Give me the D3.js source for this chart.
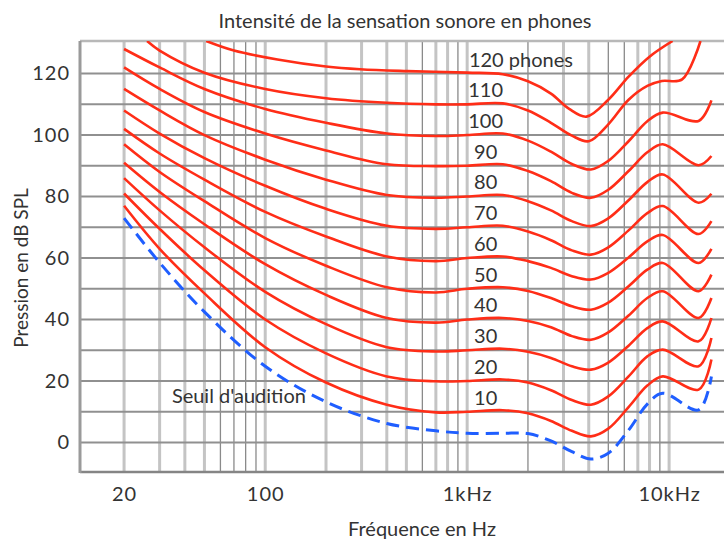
<!DOCTYPE html>
<html lang="fr">
<head>
  <meta charset="UTF-8">
  <title>Courbes isosoniques</title>
  <script src="https://d3js.org/d3.v7.min.js"></script>
  <style>
    body { margin: 0; background: #fff; }
    text { font-family: Lato, "Open Sans", sans-serif; fill: #333; }
    .title { font-size: 20px; text-anchor: middle; }
    .axis-title { font-size: 20px; text-anchor: middle; }
    .y-title { font-size: 19px; text-anchor: middle; }
    .tick text { font-size: 20px; fill: #333; letter-spacing: 1px; }
    .curve-label { font-size: 20px; }
    .contour { fill: none; stroke: #ff2d17; stroke-width: 2.6; }
    .threshold { fill: none; stroke: #1f5eff; stroke-width: 3; stroke-dasharray: 13 7; }
  </style>
</head>
<body>
  <div id="chart"></div>
  <script>
    // frequencies (Hz) shared by the contours 10..100 phones and the threshold
    const FREQ = [20, 30, 50, 100, 200, 400, 700, 1000, 1500, 2000, 2600, 3300, 4100, 5000, 6300, 7800, 9300, 14000, 16200];

    const SEUIL = [73, 58.5, 42.5, 24.8, 13.2, 6.2, 3.8, 3, 3, 2.9, 0.5, -3, -5.4, -3.5, 4, 12.5, 16, 10.6, 21.5];
    const SPL10 = [77, 63, 48.5, 31, 19.5, 12.3, 9.8, 10, 10.5, 9.5, 7, 3.8, 2, 4.5, 11.5, 18.5, 21.5, 17.2, 27];
    const SPL20 = [81, 69.5, 56, 40, 29, 21.5, 19.9, 20, 20.5, 19.5, 17, 13.8, 12.3, 15, 21.5, 28, 30.2, 24.8, 34];
    const SPL30 = [86, 75.5, 63.5, 49, 38.5, 31, 29.6, 30, 30.5, 29.5, 27.5, 24.8, 23.7, 26, 31.5, 37.2, 39.4, 32.9, 40.5];
    const SPL40 = [91, 81.5, 71, 58, 48, 40.5, 39, 40, 40.5, 39.5, 37.5, 34.6, 33.4, 35.8, 41.3, 47, 49.2, 40.5, 47];
    const SPL50 = [97, 88, 78.5, 66.5, 57.5, 50.5, 48.8, 50, 50.5, 49.3, 47, 44.3, 43.2, 45.5, 50.8, 56.2, 58.4, 49.2, 54.6];
    const SPL60 = [102, 94, 85.5, 75, 67, 60.5, 59, 60, 60.5, 59, 56.8, 54.1, 53, 55.2, 60.2, 65.4, 67.5, 58.4, 63];
    const SPL70 = [108, 100.5, 92.5, 83.5, 76, 70.5, 69.5, 70, 70.5, 68.6, 65.8, 62.5, 61.1, 63.5, 69, 74.6, 76.9, 67.8, 72];
    const SPL80 = [115, 108, 100, 92, 85.5, 80.5, 79.6, 80, 80.5, 78.5, 75.5, 72, 70.4, 72.9, 78.8, 84.7, 87.2, 78, 80.9];
    const SPL90 = [122, 115, 107.5, 100.5, 95, 90.5, 89.9, 90, 90.5, 88.3, 85, 81.2, 79.6, 82.2, 88.3, 94.4, 97, 90.2, 93.2];
    const SPL100 = [128, 122, 115, 108.5, 104, 100.5, 99.7, 100, 100.5, 98.2, 94.6, 90.6, 88.8, 91.6, 98, 104.5, 107.3, 104.6, 111.3];

    // the two loudest contours leave the frame, so they get their own frequencies
    const FREQ110 = [26, 30, 50, 100, 200, 400, 700, 1000, 1500, 2000, 2600, 3300, 4000, 5000, 6300, 7800, 9200, 11600, 14300];
    const SPL110 = [130.6, 127.5, 120.3, 115, 112, 110.5, 110, 110, 110.3, 108, 104, 99.8, 98, 103.5, 111.5, 116, 117.6, 118.1, 130.6];
    const FREQ120 = [51, 70, 115, 200, 295, 505, 1000, 1500, 2000, 2600, 3200, 3900, 5000, 6300, 8000, 10400];
    const SPL120 = [130.6, 127.5, 124.6, 122.3, 121.4, 120.8, 120.3, 119.8, 117.5, 113.5, 108.5, 106, 111.5, 119, 125.5, 130.6];

    const LABELS = ["10", "20", "30", "40", "50", "60", "70", "80", "90", "100", "110", "120 phones"];
    const LABEL_PHONS = [10, 20, 30, 40, 50, 60, 70, 80, 90, 100, 110, 120];

    const Y_TICKS = [0, 20, 40, 60, 80, 100, 120];
    const H_GRID = [0, 10, 20, 30, 40, 50, 60, 70, 80, 90, 100, 110, 120];
    const X_TICKS = [20, 100, 1000, 10000];
    const X_TICK_LABELS = ["20", "100", "1kHz", "10kHz"];
    const GRID_LIGHT = [20, 30, 40, 50, 100, 200, 300, 400, 500, 700, 800, 1000, 3000, 4000, 7000, 8000, 10000];
    const GRID_DARK = [60, 70, 80, 90, 600, 900, 2000, 5000, 6000, 9000];

    const W = 724, H = 541;
    const plotLeft = 80, plotRight = 724, plotTop = 41, plotBottom = 472;

    const svg = d3.select("#chart").append("svg")
      .attr("width", W).attr("height", H);

    const x = d3.scaleLog().domain([12.1, 18700]).range([plotLeft, plotRight]);
    const y = d3.scaleLinear().domain([-9.6, 130.6]).range([plotBottom, plotTop]);

    svg.append("defs").append("clipPath").attr("id", "plot")
      .append("rect").attr("x", plotLeft).attr("y", plotTop)
      .attr("width", plotRight - plotLeft).attr("height", plotBottom - plotTop);

    // grid
    const grid = svg.append("g");
    grid.selectAll(".vl").data(GRID_LIGHT).enter().append("line")
      .attr("x1", d => x(d)).attr("x2", d => x(d))
      .attr("y1", plotTop).attr("y2", plotBottom)
      .attr("stroke", "#c4c4c4").attr("stroke-width", 3);
    grid.selectAll(".vd").data(GRID_DARK).enter().append("line")
      .attr("x1", d => x(d)).attr("x2", d => x(d))
      .attr("y1", plotTop).attr("y2", plotBottom)
      .attr("stroke", "#8a8a8a").attr("stroke-width", 1.3);
    grid.selectAll(".hl").data(H_GRID).enter().append("line")
      .attr("x1", plotLeft).attr("x2", plotRight)
      .attr("y1", d => y(d)).attr("y2", d => y(d))
      .attr("stroke", "#909090").attr("stroke-width", 2);

    // frame
    grid.append("line").attr("x1", plotLeft).attr("x2", plotRight).attr("y1", plotTop).attr("y2", plotTop)
      .attr("stroke", "#b8b8b8").attr("stroke-width", 2.5);
    grid.append("line").attr("x1", plotLeft).attr("x2", plotRight).attr("y1", plotBottom).attr("y2", plotBottom)
      .attr("stroke", "#858585").attr("stroke-width", 2.5);
    grid.append("line").attr("x1", plotLeft).attr("x2", plotLeft).attr("y1", plotTop).attr("y2", plotBottom + 1)
      .attr("stroke", "#9a9a9a").attr("stroke-width", 3);

    // axes (labels only)
    svg.append("g")
      .attr("transform", `translate(0,${plotBottom})`)
      .call(d3.axisBottom(x).tickValues(X_TICKS).tickSize(0).tickPadding(15)
        .tickFormat((d, i) => X_TICK_LABELS[i]))
      .call(g => g.select(".domain").remove());
    svg.append("g")
      .attr("transform", `translate(${plotLeft},0)`)
      .call(d3.axisLeft(y).tickValues(Y_TICKS).tickSize(0).tickPadding(10))
      .call(g => g.select(".domain").remove());

    const line = d3.line()
      .x(d => x(d[0])).y(d => y(d[1]))
      .curve(d3.curveCatmullRom.alpha(0.5));

    const contours = [SPL10, SPL20, SPL30, SPL40, SPL50, SPL60, SPL70, SPL80, SPL90, SPL100]
      .map(vals => FREQ.map((f, i) => [f, vals[i]]));
    contours.push(FREQ110.map((f, i) => [f, SPL110[i]]));
    contours.push(FREQ120.map((f, i) => [f, SPL120[i]]));

    const plot = svg.append("g").attr("clip-path", "url(#plot)");
    plot.selectAll(".contour").data(contours).enter().append("path")
      .attr("class", "contour")
      .attr("d", line);

    plot.append("path")
      .attr("class", "threshold")
      .attr("d", line(FREQ.map((f, i) => [f, SEUIL[i]])));

    // contour labels
    svg.selectAll(".curve-label").data(LABEL_PHONS).enter().append("text")
      .attr("class", "curve-label")
      .attr("x", (d, i) => LABELS[i].length > 3 ? x(1020) : x(1235))
      .attr("y", d => y(d + 2.3))
      .attr("text-anchor", (d, i) => LABELS[i].length > 3 ? "start" : "middle")
      .text((d, i) => LABELS[i]);

    svg.append("text").attr("class", "curve-label")
      .attr("x", x(34.5)).attr("y", y(12.8))
      .text("Seuil d'audition");

    // titles
    svg.append("text").attr("class", "title")
      .attr("x", 405).attr("y", 28)
      .text("Intensité de la sensation sonore en phones");
    svg.append("text").attr("class", "axis-title")
      .attr("x", 422).attr("y", 536)
      .text("Fréquence en Hz");
    svg.append("text").attr("class", "y-title")
      .attr("transform", `translate(28,268) rotate(-90)`)
      .text("Pression en dB SPL");
  </script>
</body>
</html>
